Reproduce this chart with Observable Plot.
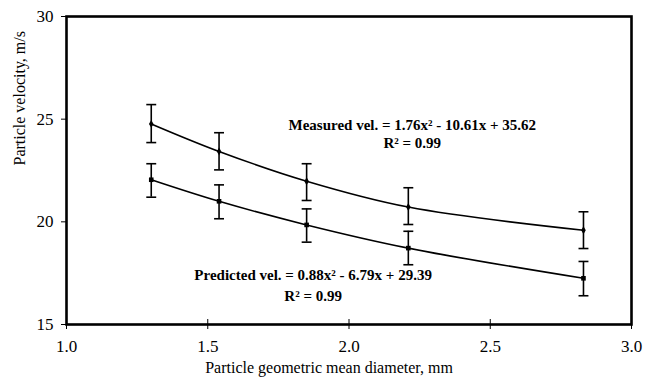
<!DOCTYPE html>
<html>
<head>
<meta charset="utf-8">
<script src="https://cdn.jsdelivr.net/npm/d3@7"></script>
<script src="https://cdn.jsdelivr.net/npm/@observablehq/plot@0.6"></script>
<style>
  html, body { margin: 0; padding: 0; background: #fff; }
</style>
</head>
<body>
<div id="chart"></div>
<script>
// Data
const diameters = [1.30, 1.54, 1.85, 2.21, 2.83];
const measuredVel = [24.77, 23.43, 21.98, 20.72, 19.59];
const measuredLo = [23.86, 22.53, 21.04, 19.87, 18.70];
const measuredHi = [25.71, 24.34, 22.83, 21.66, 20.49];
const predictedVel = [22.05, 21.00, 19.85, 18.72, 17.25];
const predictedLo = [21.20, 20.15, 19.01, 17.91, 16.40];
const predictedHi = [22.83, 21.80, 20.63, 19.54, 18.07];
const xTicks = [1.0, 1.5, 2.0, 2.5, 3.0];
const yTicks = [15, 20, 25, 30];
const xTitle = "Particle geometric mean diameter, mm";
const yTitle = "Particle velocity, m/s";
const annotations = [
  {x: 2.224, y: 24.69, text: "Measured vel. = 1.76x\u00B2 - 10.61x + 35.62"},
  {x: 2.224, y: 23.81, text: "R\u00B2 = 0.99"},
  {x: 1.873, y: 17.38, text: "Predicted vel. = 0.88x\u00B2 - 6.79x + 29.39"},
  {x: 1.873, y: 16.36, text: "R\u00B2 = 0.99"}
];

const measured = diameters.map((x, i) => ({x, y: measuredVel[i], lo: measuredLo[i], hi: measuredHi[i]}));
const predicted = diameters.map((x, i) => ({x, y: predictedVel[i], lo: predictedLo[i], hi: predictedHi[i]}));
const all = measured.concat(predicted);

// horizontal cap symbol for error bars
const cap = {
  draw(context, size) {
    const w = Math.sqrt(size) / 2;
    context.moveTo(-w, 0);
    context.lineTo(w, 0);
  }
};

const chart = Plot.plot({
  width: 645,
  height: 379,
  marginLeft: 66,
  marginRight: 14,
  marginTop: 16,
  marginBottom: 55,
  style: {fontFamily: "'Liberation Serif', 'Times New Roman', serif", fontSize: "16px", color: "#000", background: "#fff"},
  x: {domain: [1, 3]},
  y: {domain: [15, 30]},
  marks: [
    Plot.axisX({ticks: xTicks, tickFormat: d3.format(".1f"), tickSize: 5, tickPadding: 10, label: null, fontSize: 17}),
    Plot.axisX({ticks: xTicks, tickSize: 5, tickFormat: () => "", dy: -5, label: null}),
    Plot.axisY({ticks: yTicks, tickSize: 5, tickPadding: 8, label: null, fontSize: 17}),
    Plot.text([xTitle], {frameAnchor: "bottom", text: d => d, dx: -20, dy: 48, fontSize: 16, fill: "#000"}),
    Plot.text([yTitle], {frameAnchor: "left", text: d => d, rotate: -90, dx: -47, dy: -5, fontSize: 16, fill: "#000"}),
    Plot.ruleX(all, {x: "x", y1: "lo", y2: "hi", stroke: "#000", strokeWidth: 1.6}),
    Plot.dot(all, {x: "x", y: "lo", symbol: cap, r: 5.6, stroke: "#000", strokeWidth: 1.6, fill: "none"}),
    Plot.dot(all, {x: "x", y: "hi", symbol: cap, r: 5.6, stroke: "#000", strokeWidth: 1.6, fill: "none"}),
    Plot.line(measured, {x: "x", y: "y", curve: "catmull-rom", stroke: "#000", strokeWidth: 1.6}),
    Plot.line(predicted, {x: "x", y: "y", curve: "catmull-rom", stroke: "#000", strokeWidth: 1.6}),
    Plot.dot(measured, {x: "x", y: "y", symbol: "diamond", r: 2.4, fill: "#000"}),
    Plot.dot(predicted, {x: "x", y: "y", symbol: "square", r: 2.6, fill: "#000"}),
    Plot.text(annotations, {x: "x", y: "y", text: "text", fontSize: 15, fontWeight: "bold", fill: "#000"}),
    Plot.frame({stroke: "#000", strokeWidth: 2.6})
  ]
});
document.getElementById("chart").appendChild(chart);
</script>
</body>
</html>
